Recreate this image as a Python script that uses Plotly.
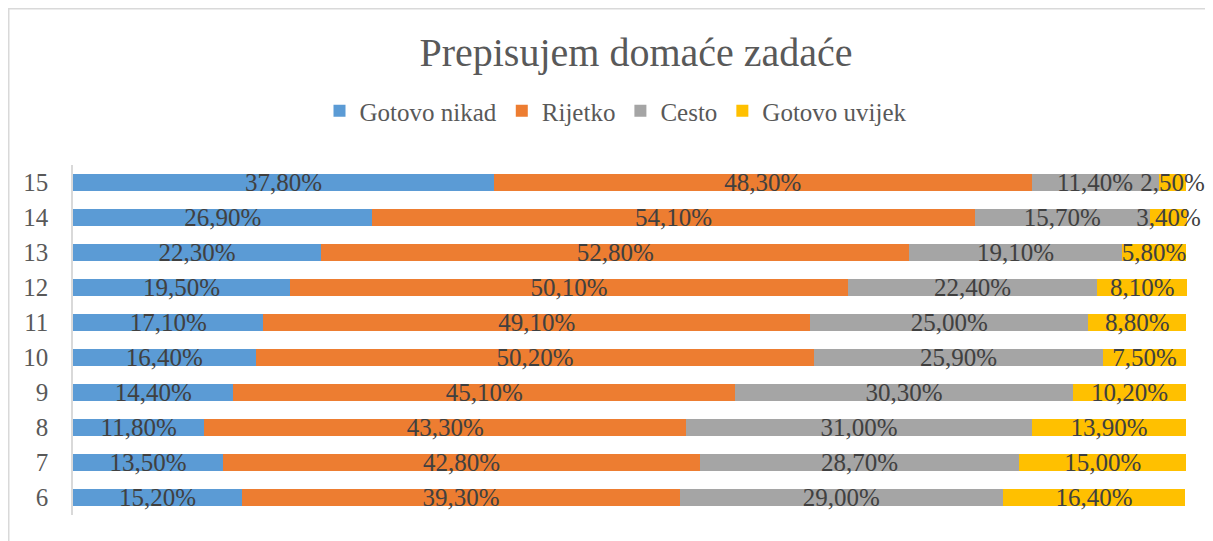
import plotly.graph_objects as go

categories = ["6", "7", "8", "9", "10", "11", "12", "13", "14", "15"]
gotovo_nikad = [15.2, 13.5, 11.8, 14.4, 16.4, 17.1, 19.5, 22.3, 26.9, 37.8]
rijetko = [39.3, 42.8, 43.3, 45.1, 50.2, 49.1, 50.1, 52.8, 54.1, 48.3]
cesto = [29.0, 28.7, 31.0, 30.3, 25.9, 25.0, 22.4, 19.1, 15.7, 11.4]
gotovo_uvijek = [16.4, 15.0, 13.9, 10.2, 7.5, 8.8, 8.1, 5.8, 3.4, 2.5]

series_names = ["Gotovo nikad", "Rijetko", "Cesto", "Gotovo uvijek"]
series_values = [gotovo_nikad, rijetko, cesto, gotovo_uvijek]
colors = ["#5B9BD5", "#ED7D31", "#A5A5A5", "#FFC000"]

FONT = "Liberation Serif"
LABEL_SIZE = 25


def fmt(v):
    return f"{v:.2f}".replace(".", ",") + "%"


fig = go.Figure()
for name, vals, col in zip(series_names, series_values, colors):
    fig.add_trace(go.Bar(
        y=categories, x=vals, name=name, orientation="h",
        marker=dict(color=col, line=dict(width=0)),
        text=[fmt(v) for v in vals],
        textposition="inside", insidetextanchor="middle",
        textangle=0, constraintext="none", cliponaxis=False,
        textfont=dict(family=FONT, size=LABEL_SIZE, color="#404040"),
        hoverinfo="skip",
    ))

# page body has an 8px margin: work in page coordinates, shift by 8
OFF = 8
L, R, T, B = 73 - OFF, 1188 - OFF, 165 - OFF, 515 - OFF
W, H = 1213 - OFF, 541 - OFF
pw, ph = R - L, B - T

fig.update_layout(
    barmode="stack",
    bargap=0.49,
    width=W, height=H,
    margin=dict(l=L, r=W - R, t=T, b=H - B, autoexpand=False),
    paper_bgcolor="white", plot_bgcolor="white",
    uniformtext=dict(minsize=LABEL_SIZE, mode="show"),
    title=dict(text="Prepisujem domaće zadaće", x=(636 - OFF) / W, xref="container",
               xanchor="center", y=1 - (52 - OFF) / H, yref="container", yanchor="middle",
               font=dict(family=FONT, size=40, color="#595959")),
    legend=dict(orientation="h", x=(616 - OFF - L) / pw, xanchor="center",
                y=(B - (111 - OFF)) / ph, yanchor="middle", traceorder="normal",
                font=dict(family=FONT, size=25, color="#595959"),
                bgcolor="rgba(0,0,0,0)"),
    xaxis=dict(range=[0, 100.15], showticklabels=False, showgrid=False,
               zeroline=False, showline=False, fixedrange=True),
    yaxis=dict(type="category", categoryorder="array", categoryarray=categories,
               showgrid=False, zeroline=False, showline=True,
               linecolor="#D9D9D9", linewidth=1.5, ticks="",
               ticklabelstandoff=18,
               tickfont=dict(family=FONT, size=25, color="#595959")),
    showlegend=True,
)

fig.add_shape(type="rect", xref="paper", yref="paper",
              x0=(0.75 - L) / pw, x1=1.2, y0=-0.3, y1=(B - 0.75) / ph,
              line=dict(color="#D9D9D9", width=1.5), fillcolor="rgba(0,0,0,0)",
              layer="below")

fig.write_html("out.html")
